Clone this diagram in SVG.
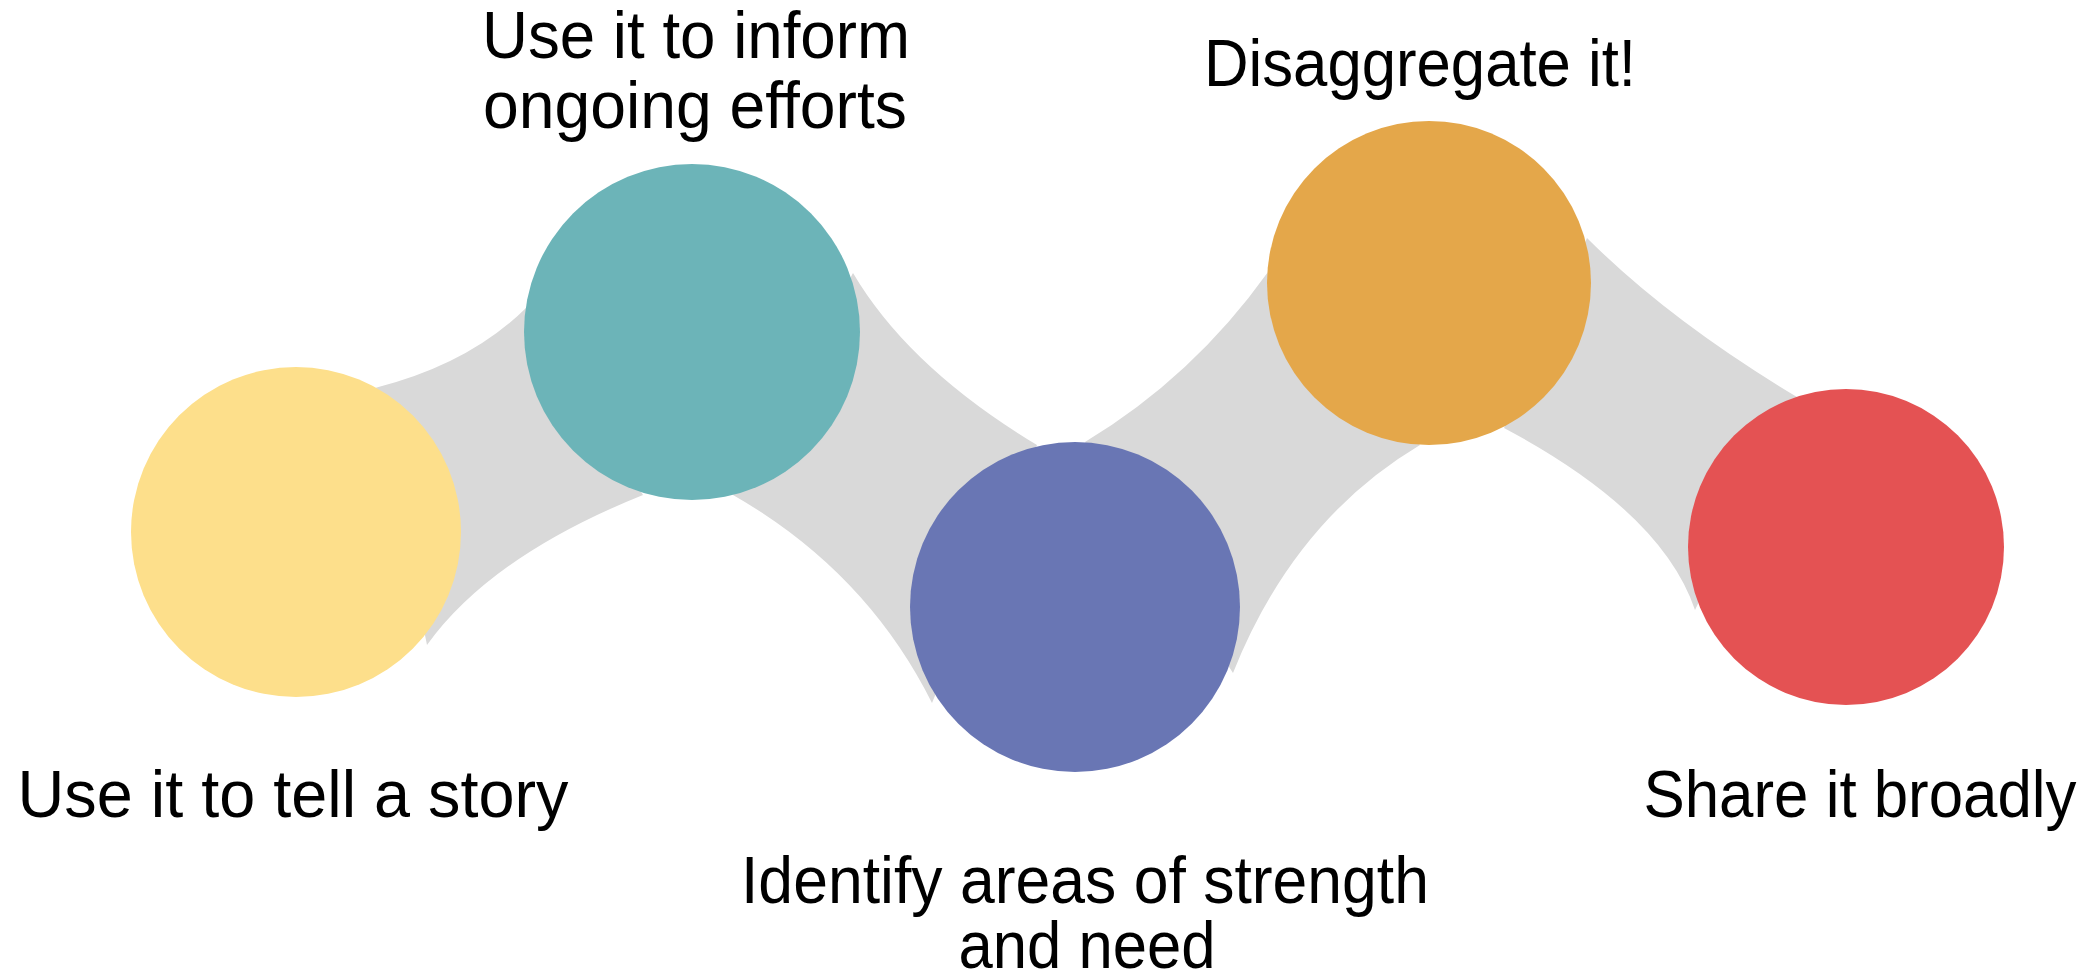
<svg xmlns="http://www.w3.org/2000/svg" width="2100" height="980" viewBox="0 0 2100 980">
<style>
.lbl{font-family:"Liberation Sans",Arial,sans-serif;font-size:67px;fill:#000;text-anchor:middle}
.band{fill:#D9D9D9;stroke:none}
</style>
<rect width="2100" height="980" fill="#fff"/>
<g id="connectors">
<path class="band" d="M375,388 Q470,364 527,307 L643,495 Q491,556 427,645 Z"/>
<path class="band" d="M853,273 Q909,368 1037,445 L932,703 Q866,571 733,495 Z"/>
<path class="band" d="M1085,442 Q1193,377 1268,272 L1420,445 Q1294,520 1233,673 Z"/>
<path class="band" d="M1587,238 Q1669.5,320.5 1797,397 L1695,610 Q1662,512 1504,428 Z"/>
</g>
<g id="node-story">
<circle cx="296" cy="532" r="165" fill="#FDDF8B"/>
<text class="lbl" x="293" y="817" textLength="551" lengthAdjust="spacingAndGlyphs">Use it to tell a story</text>
</g>
<g id="node-inform">
<circle cx="692" cy="332" r="168" fill="#6CB4B8"/>
<text class="lbl" x="696" y="58" textLength="428" lengthAdjust="spacingAndGlyphs">Use it to inform</text>
<text class="lbl" x="695" y="128" textLength="424" lengthAdjust="spacingAndGlyphs">ongoing efforts</text>
</g>
<g id="node-identify">
<circle cx="1075" cy="607" r="165" fill="#6976B4"/>
<text class="lbl" x="1085" y="903" textLength="688" lengthAdjust="spacingAndGlyphs">Identify areas of strength</text>
<text class="lbl" x="1087" y="968" textLength="257" lengthAdjust="spacingAndGlyphs">and need</text>
</g>
<g id="node-disaggregate">
<circle cx="1429" cy="283" r="162" fill="#E4A74A"/>
<text class="lbl" x="1420" y="86" textLength="432" lengthAdjust="spacingAndGlyphs">Disaggregate it!</text>
</g>
<g id="node-share">
<circle cx="1846" cy="547" r="158" fill="#E45253"/>
<text class="lbl" x="1860" y="817" textLength="433" lengthAdjust="spacingAndGlyphs">Share it broadly</text>
</g>
</svg>
